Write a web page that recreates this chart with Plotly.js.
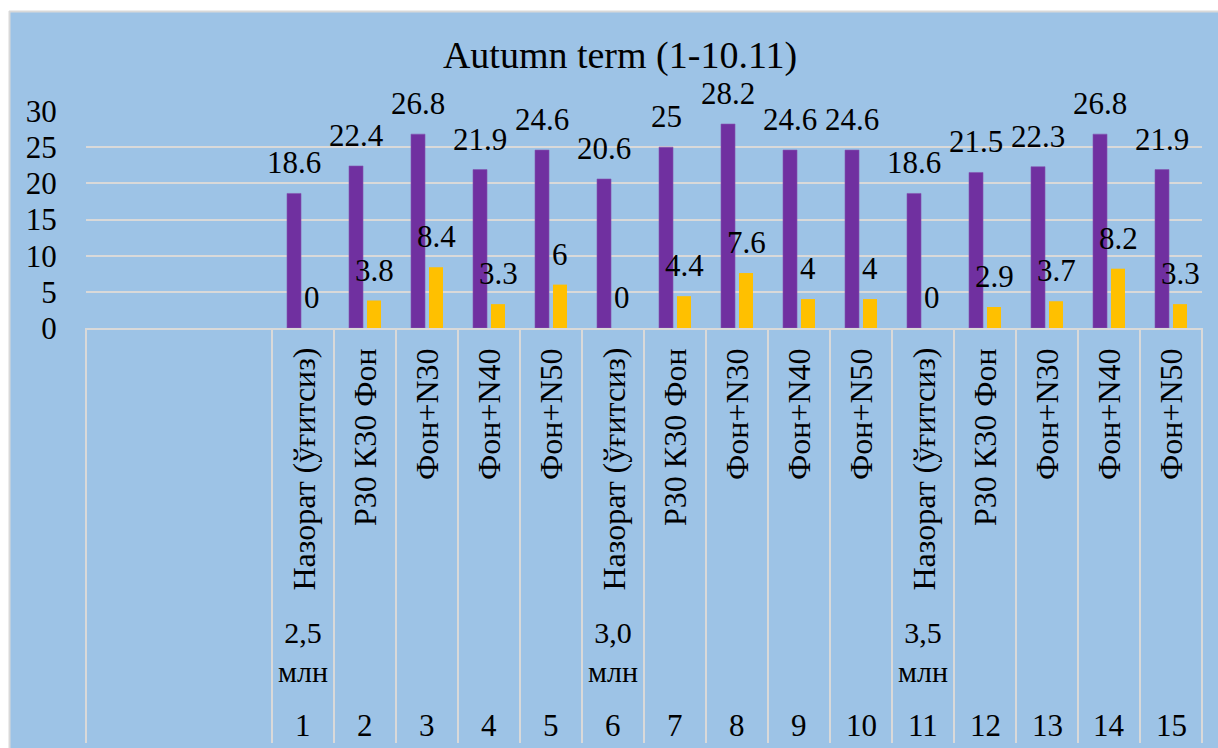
<!DOCTYPE html>
<html>
<head>
<meta charset="utf-8">
<script src="https://cdn.plot.ly/plotly-3.0.1.min.js"></script>
</head>
<body style="margin:0">
<div id="chart"></div>
<script>
const titleText = "Autumn term (1-10.11)";
const positions = [1,2,3,4,5,6,7,8,9,10,11,12,13,14,15];
const treatments = ["Назорат (ўғитсиз)","Р30 К30 Фон","Фон+N30","Фон+N40","Фон+N50",
                    "Назорат (ўғитсиз)","Р30 К30 Фон","Фон+N30","Фон+N40","Фон+N50",
                    "Назорат (ўғитсиз)","Р30 К30 Фон","Фон+N30","Фон+N40","Фон+N50"];
const groupLabels = ["2,5<br>млн","","","","","3,0<br>млн","","","","","3,5<br>млн","","","",""];
const numberLabels = ["1","2","3","4","5","6","7","8","9","10","11","12","13","14","15"];
const purpleValues = [18.6,22.4,26.8,21.9,24.6,20.6,25,28.2,24.6,24.6,18.6,21.5,22.3,26.8,21.9];
const yellowValues = [0,3.8,8.4,3.3,6,0,4.4,7.6,4,4,0,2.9,3.7,8.2,3.3];
const yTicks = [0,5,10,15,20,25,30];

const FONT = "Liberation Serif";
const GRID = "#D9D9D9";

const traces = [
  {type:"bar", x:positions, y:purpleValues, marker:{color:"#7030A0", line:{color:"#8456B0", width:0.6}}, hoverinfo:"none"},
  {type:"bar", x:positions, y:yellowValues, marker:{color:"#FFC000"}, hoverinfo:"none"}
];

const annotations = [];
positions.forEach((p,i)=>{
  annotations.push({x:p, y:purpleValues[i], xref:"x", yref:"y", text:String(purpleValues[i]), showarrow:false,
    xanchor:"center", yanchor:"bottom", xshift:-9, yshift:11, font:{family:FONT, size:31}});
  annotations.push({x:p, y:yellowValues[i], xref:"x", yref:"y", text:String(yellowValues[i]), showarrow:false,
    xanchor:"center", yanchor:"bottom", xshift:9, yshift:11, font:{family:FONT, size:31}});
  annotations.push({x:p, y:0, xref:"x", yref:"paper", text:treatments[i], showarrow:false, textangle:-90,
    xanchor:"center", yanchor:"top", yshift:-18, font:{family:FONT, size:32}});
  if (groupLabels[i]) annotations.push({x:p, y:0, xref:"x", yref:"paper", text:groupLabels[i], showarrow:false,
    xanchor:"center", yanchor:"middle", yshift:-324, font:{family:FONT, size:30}});
  annotations.push({x:p, y:0, xref:"x", yref:"paper", text:numberLabels[i], showarrow:false,
    xanchor:"center", yanchor:"middle", yshift:-397, font:{family:FONT, size:31}});
});

const shapes = [];
// white page strips outside the chart area
shapes.push({type:"rect", xref:"paper", yref:"paper", xsizemode:"pixel", ysizemode:"pixel", xanchor:0, yanchor:1,
  x0:-100, x1:1200, y0:100, y1:130, fillcolor:"#fff", line:{width:0}, layer:"above"});
shapes.push({type:"rect", xref:"paper", yref:"paper", xsizemode:"pixel", ysizemode:"pixel", xanchor:0, yanchor:1,
  x0:-100, x1:-77, y0:-700, y1:130, fillcolor:"#fff", line:{width:0}, layer:"above"});
// chart area border
shapes.push({type:"line", xref:"paper", yref:"paper", xsizemode:"pixel", ysizemode:"pixel", xanchor:0, yanchor:1,
  x0:-77, x1:1200, y0:99.5, y1:99.5, line:{color:GRID, width:2}});
shapes.push({type:"line", xref:"paper", yref:"paper", xsizemode:"pixel", ysizemode:"pixel", xanchor:0, yanchor:1,
  x0:-76.5, x1:-76.5, y0:100, y1:-700, line:{color:GRID, width:2}});
// table vertical lines (category boundaries)
const boundaries = [{ref:"paper", v:0}];
positions.forEach(p=>boundaries.push({ref:"x", v:p-0.5}));
boundaries.push({ref:"paper", v:1});
boundaries.forEach(b=>{
  shapes.push({type:"line", xref:b.ref, yref:"paper", ysizemode:"pixel", yanchor:0,
    x0:b.v, x1:b.v, y0:0, y1:-415, line:{color:GRID, width:2}});
});

const layout = {
  width:1218, height:748,
  margin:{l:86, r:16, t:111, b:420, pad:0},
  paper_bgcolor:"#9DC3E6", plot_bgcolor:"rgba(0,0,0,0)",
  showlegend:false,
  font:{family:FONT, color:"#000"},
  barmode:"group", bargap:0.42, bargroupgap:0.22,
  title:{text:titleText, font:{family:FONT, size:38}, xref:"container", x:620/1218, xanchor:"center",
         yref:"container", y:1-55/748, yanchor:"middle"},
  xaxis:{range:[-2.5,15.5], showgrid:false, zeroline:false, showticklabels:false, ticks:"",
         showline:true, linecolor:GRID, linewidth:2, fixedrange:true},
  yaxis:{range:[0,30], tickvals:yTicks, showgrid:true, gridcolor:GRID, gridwidth:2, zeroline:false,
         showline:false, ticks:"outside", ticklen:22, tickcolor:"rgba(0,0,0,0)",
         tickfont:{family:FONT, size:31}, fixedrange:true},
  annotations:annotations,
  shapes:shapes
};

Plotly.newPlot("chart", traces, layout, {displayModeBar:false});
</script>
</body>
</html>
